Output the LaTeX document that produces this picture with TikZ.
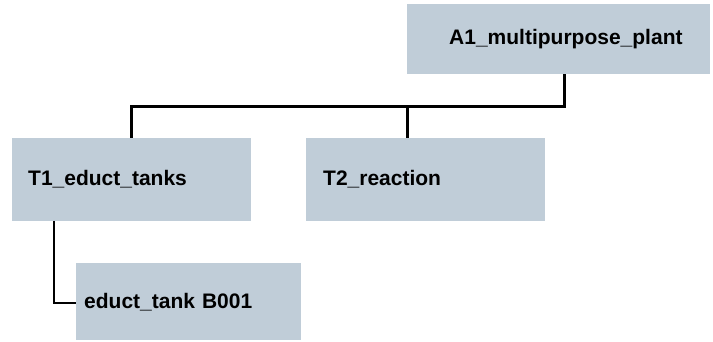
\documentclass[tikz,border=0pt]{standalone}
\usepackage{fontspec}
\setmainfont{Liberation Sans}
\definecolor{boxfill}{RGB}{192,205,216}
\begin{document}
\begin{tikzpicture}[x=1pt,y=-1pt,
  unit/.style={rectangle, fill=boxfill, anchor=north west, align=left,
    font=\fontsize{21}{25}\selectfont\bfseries, inner ysep=0pt},
  link/.style={draw=black, line width=2.5pt}]
\useasboundingbox (0,0) rectangle (713,341);

% plant, units and equipment
\node[unit, minimum width=303pt, minimum height=70pt, inner xsep=42pt,
      text width=219pt] (A1) at (407,4) {A1\_multipurpose\_plant};
\node[unit, minimum width=239pt, minimum height=83pt, inner xsep=16pt,
      text width=207pt] (T1) at (12,137.5) {T1\_educt\_tanks};
\node[unit, minimum width=239pt, minimum height=83pt, inner xsep=17pt,
      text width=205pt] (T2) at (306,137.5) {T2\_reaction};
\node[unit, minimum width=225pt, minimum height=77pt, inner xsep=8pt,
      text width=209pt] (E1) at (76,263) {educt\_tank B001};

% hierarchy connectors
\coordinate (bus) at (0,106.5);
\draw[link] ([xshift=6pt]A1.south) -- ([xshift=6pt]A1.south |- bus)
  -| (T1.north);
\draw[link] ([xshift=-18pt]T2.north) -- ([xshift=-18pt]T2.north |- bus);
\draw[link] ([xshift=-77.5pt]T1.south) |- ([yshift=-1.5pt]E1.west);
\end{tikzpicture}
\end{document}
